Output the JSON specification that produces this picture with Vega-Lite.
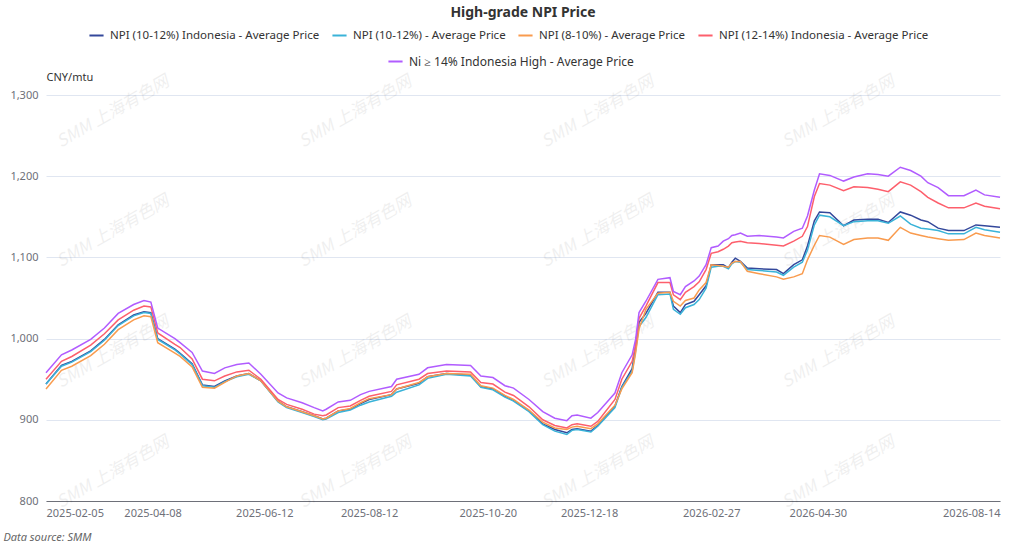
{
  "$schema": "https://vega.github.io/schema/vega-lite/v6.json",
  "description": "High-grade NPI Price",
  "autosize": {"type": "none"},
  "padding": {"left": 46, "top": 95, "right": 24, "bottom": 46},
  "width": 954,
  "height": 406,
  "background": "white",
  "title": {"text": "High-grade NPI Price", "fontSize": 14, "fontWeight": "bold", "color": "#333333", "anchor": "middle", "offset": 7},
  "config": {
    "font": "Noto Sans",
    "view": {"stroke": null},
    "legend": {
      "title": null,
      "orient": "none",
      "direction": "horizontal",
      "gridAlign": "none",
      "columnPadding": 8,
      "symbolType": "stroke",
      "symbolSize": 200,
      "symbolStrokeWidth": 2,
      "labelFontSize": 11.5,
      "labelColor": "#333333",
      "labelOffset": 5,
      "labelLimit": 0
    }
  },
  "datasets": {
    "watermark": [
      {"date": "2025-03-16", "price": 1279, "text": "SMM 上海有色网"}, {"date": "2025-08-04", "price": 1279, "text": "SMM 上海有色网"},
      {"date": "2025-12-23", "price": 1279, "text": "SMM 上海有色网"}, {"date": "2026-05-12", "price": 1279, "text": "SMM 上海有色网"},
      {"date": "2025-03-16", "price": 1132, "text": "SMM 上海有色网"}, {"date": "2025-08-04", "price": 1132, "text": "SMM 上海有色网"},
      {"date": "2025-12-23", "price": 1132, "text": "SMM 上海有色网"}, {"date": "2026-05-12", "price": 1132, "text": "SMM 上海有色网"},
      {"date": "2025-03-16", "price": 983, "text": "SMM 上海有色网"}, {"date": "2025-08-04", "price": 983, "text": "SMM 上海有色网"},
      {"date": "2025-12-23", "price": 983, "text": "SMM 上海有色网"}, {"date": "2026-05-12", "price": 983, "text": "SMM 上海有色网"},
      {"date": "2025-03-16", "price": 835, "text": "SMM 上海有色网"}, {"date": "2025-08-04", "price": 835, "text": "SMM 上海有色网"},
      {"date": "2025-12-23", "price": 835, "text": "SMM 上海有色网"}, {"date": "2026-05-12", "price": 835, "text": "SMM 上海有色网"}
    ],
    "npi1012id": [
      {"date":"2025-02-05","price":944},{"date":"2025-02-14","price":967},{"date":"2025-02-20","price":972},{"date":"2025-03-03","price":985},{"date":"2025-03-11","price":999},{"date":"2025-03-19","price":1017},{"date":"2025-03-28","price":1029},{"date":"2025-04-03","price":1033},{"date":"2025-04-07","price":1032},{"date":"2025-04-11","price":1000},
      {"date":"2025-04-21","price":987},{"date":"2025-04-24","price":982},{"date":"2025-05-01","price":969},{"date":"2025-05-07","price":943},{"date":"2025-05-14","price":941},{"date":"2025-05-20","price":948},{"date":"2025-05-27","price":954},{"date":"2025-06-03","price":957},{"date":"2025-06-10","price":948},{"date":"2025-06-20","price":923},
      {"date":"2025-06-25","price":916},{"date":"2025-07-04","price":910},{"date":"2025-07-11","price":905},{"date":"2025-07-16","price":901},{"date":"2025-07-18","price":902},{"date":"2025-07-25","price":911},{"date":"2025-08-01","price":913},{"date":"2025-08-07","price":920},{"date":"2025-08-12","price":925},{"date":"2025-08-25","price":931},
      {"date":"2025-08-28","price":938},{"date":"2025-09-10","price":945},{"date":"2025-09-15","price":953},{"date":"2025-09-26","price":957},{"date":"2025-10-10","price":955},{"date":"2025-10-16","price":941},{"date":"2025-10-23","price":938},{"date":"2025-10-30","price":929},{"date":"2025-11-04","price":924},{"date":"2025-11-13","price":911},
      {"date":"2025-11-21","price":895},{"date":"2025-11-28","price":888},{"date":"2025-12-05","price":884},{"date":"2025-12-08","price":888},{"date":"2025-12-11","price":889},{"date":"2025-12-19","price":886},{"date":"2025-12-23","price":893},{"date":"2026-01-02","price":917},{"date":"2026-01-06","price":941},{"date":"2026-01-12","price":963},
      {"date":"2026-01-14","price":990},{"date":"2026-01-16","price":1020},{"date":"2026-01-20","price":1031},{"date":"2026-01-27","price":1057},{"date":"2026-02-03","price":1057},{"date":"2026-02-05","price":1040},{"date":"2026-02-09","price":1032},{"date":"2026-02-12","price":1042},{"date":"2026-02-17","price":1046},{"date":"2026-02-20","price":1054},
      {"date":"2026-02-24","price":1065},{"date":"2026-02-27","price":1091},{"date":"2026-03-03","price":1091},{"date":"2026-03-06","price":1091},{"date":"2026-03-09","price":1087},{"date":"2026-03-11","price":1094},{"date":"2026-03-13","price":1099},{"date":"2026-03-16","price":1095},{"date":"2026-03-20","price":1087},{"date":"2026-03-27","price":1086},
      {"date":"2026-04-06","price":1085},{"date":"2026-04-10","price":1080},{"date":"2026-04-16","price":1091},{"date":"2026-04-21","price":1097},{"date":"2026-04-24","price":1114},{"date":"2026-04-28","price":1145},{"date":"2026-05-01","price":1156},{"date":"2026-05-07","price":1155},{"date":"2026-05-15","price":1139},{"date":"2026-05-21","price":1146},
      {"date":"2026-05-29","price":1147},{"date":"2026-06-04","price":1147},{"date":"2026-06-10","price":1143},{"date":"2026-06-17","price":1156},{"date":"2026-06-23","price":1152},{"date":"2026-06-29","price":1146},{"date":"2026-07-03","price":1144},{"date":"2026-07-09","price":1136},{"date":"2026-07-15","price":1133},{"date":"2026-07-24","price":1133},
      {"date":"2026-07-31","price":1140},{"date":"2026-08-05","price":1139},{"date":"2026-08-14","price":1137}
    ],
    "npi1012": [
      {"date":"2025-02-05","price":944},{"date":"2025-02-14","price":966},{"date":"2025-02-20","price":971},{"date":"2025-03-03","price":984},{"date":"2025-03-11","price":998},{"date":"2025-03-19","price":1016},{"date":"2025-03-28","price":1028},{"date":"2025-04-03","price":1032},{"date":"2025-04-07","price":1031},{"date":"2025-04-11","price":999},
      {"date":"2025-04-21","price":986},{"date":"2025-04-24","price":981},{"date":"2025-05-01","price":968},{"date":"2025-05-07","price":942},{"date":"2025-05-14","price":940},{"date":"2025-05-20","price":947},{"date":"2025-05-27","price":953},{"date":"2025-06-03","price":956},{"date":"2025-06-10","price":948},{"date":"2025-06-20","price":922},
      {"date":"2025-06-25","price":915},{"date":"2025-07-04","price":909},{"date":"2025-07-11","price":904},{"date":"2025-07-16","price":900},{"date":"2025-07-18","price":901},{"date":"2025-07-25","price":909},{"date":"2025-08-01","price":912},{"date":"2025-08-07","price":918},{"date":"2025-08-12","price":922},{"date":"2025-08-25","price":929},
      {"date":"2025-08-28","price":934},{"date":"2025-09-10","price":943},{"date":"2025-09-15","price":951},{"date":"2025-09-26","price":956},{"date":"2025-10-10","price":954},{"date":"2025-10-16","price":940},{"date":"2025-10-23","price":937},{"date":"2025-10-30","price":928},{"date":"2025-11-04","price":923},{"date":"2025-11-13","price":910},
      {"date":"2025-11-21","price":894},{"date":"2025-11-28","price":886},{"date":"2025-12-05","price":882},{"date":"2025-12-08","price":887},{"date":"2025-12-11","price":888},{"date":"2025-12-19","price":885},{"date":"2025-12-23","price":892},{"date":"2026-01-02","price":915},{"date":"2026-01-06","price":940},{"date":"2026-01-12","price":960},
      {"date":"2026-01-14","price":985},{"date":"2026-01-16","price":1015},{"date":"2026-01-20","price":1026},{"date":"2026-01-27","price":1054},{"date":"2026-02-03","price":1055},{"date":"2026-02-05","price":1036},{"date":"2026-02-09","price":1030},{"date":"2026-02-12","price":1038},{"date":"2026-02-17","price":1042},{"date":"2026-02-20","price":1048},
      {"date":"2026-02-24","price":1062},{"date":"2026-02-27","price":1088},{"date":"2026-03-03","price":1089},{"date":"2026-03-06","price":1089},{"date":"2026-03-09","price":1086},{"date":"2026-03-11","price":1092},{"date":"2026-03-13","price":1095},{"date":"2026-03-16","price":1094},{"date":"2026-03-20","price":1085},{"date":"2026-03-27","price":1084},
      {"date":"2026-04-06","price":1082},{"date":"2026-04-10","price":1078},{"date":"2026-04-16","price":1088},{"date":"2026-04-21","price":1094},{"date":"2026-04-24","price":1109},{"date":"2026-04-28","price":1140},{"date":"2026-05-01","price":1152},{"date":"2026-05-07","price":1150},{"date":"2026-05-15","price":1139},{"date":"2026-05-21","price":1144},
      {"date":"2026-05-29","price":1145},{"date":"2026-06-04","price":1145},{"date":"2026-06-10","price":1142},{"date":"2026-06-17","price":1151},{"date":"2026-06-23","price":1141},{"date":"2026-06-29","price":1136},{"date":"2026-07-03","price":1135},{"date":"2026-07-09","price":1133},{"date":"2026-07-15","price":1129},{"date":"2026-07-24","price":1129},
      {"date":"2026-07-31","price":1137},{"date":"2026-08-05","price":1134},{"date":"2026-08-14","price":1131}
    ],
    "npi810": [
      {"date":"2025-02-05","price":938},{"date":"2025-02-14","price":961},{"date":"2025-02-20","price":966},{"date":"2025-03-03","price":979},{"date":"2025-03-11","price":993},{"date":"2025-03-19","price":1011},{"date":"2025-03-28","price":1023},{"date":"2025-04-03","price":1028},{"date":"2025-04-07","price":1027},{"date":"2025-04-11","price":995},
      {"date":"2025-04-21","price":982},{"date":"2025-04-24","price":978},{"date":"2025-05-01","price":965},{"date":"2025-05-07","price":940},{"date":"2025-05-14","price":939},{"date":"2025-05-20","price":946},{"date":"2025-05-27","price":954},{"date":"2025-06-03","price":957},{"date":"2025-06-10","price":948},{"date":"2025-06-20","price":923},
      {"date":"2025-06-25","price":916},{"date":"2025-07-04","price":910},{"date":"2025-07-11","price":905},{"date":"2025-07-16","price":901},{"date":"2025-07-18","price":902},{"date":"2025-07-25","price":911},{"date":"2025-08-01","price":914},{"date":"2025-08-07","price":921},{"date":"2025-08-12","price":926},{"date":"2025-08-25","price":931},
      {"date":"2025-08-28","price":938},{"date":"2025-09-10","price":946},{"date":"2025-09-15","price":953},{"date":"2025-09-26","price":957},{"date":"2025-10-10","price":956},{"date":"2025-10-16","price":942},{"date":"2025-10-23","price":939},{"date":"2025-10-30","price":930},{"date":"2025-11-04","price":925},{"date":"2025-11-13","price":912},
      {"date":"2025-11-21","price":897},{"date":"2025-11-28","price":890},{"date":"2025-12-05","price":888},{"date":"2025-12-08","price":891},{"date":"2025-12-11","price":892},{"date":"2025-12-19","price":889},{"date":"2025-12-23","price":895},{"date":"2026-01-02","price":918},{"date":"2026-01-06","price":938},{"date":"2026-01-12","price":958},
      {"date":"2026-01-14","price":982},{"date":"2026-01-16","price":1012},{"date":"2026-01-20","price":1036},{"date":"2026-01-27","price":1056},{"date":"2026-02-03","price":1057},{"date":"2026-02-05","price":1046},{"date":"2026-02-09","price":1040},{"date":"2026-02-12","price":1047},{"date":"2026-02-17","price":1050},{"date":"2026-02-20","price":1060},
      {"date":"2026-02-24","price":1069},{"date":"2026-02-27","price":1091},{"date":"2026-03-03","price":1090},{"date":"2026-03-06","price":1089},{"date":"2026-03-09","price":1088},{"date":"2026-03-11","price":1093},{"date":"2026-03-13","price":1095},{"date":"2026-03-16","price":1095},{"date":"2026-03-20","price":1083},{"date":"2026-03-27","price":1080},
      {"date":"2026-04-06","price":1076},{"date":"2026-04-10","price":1073},{"date":"2026-04-16","price":1076},{"date":"2026-04-21","price":1080},{"date":"2026-04-24","price":1097},{"date":"2026-04-28","price":1115},{"date":"2026-05-01","price":1127},{"date":"2026-05-07","price":1125},{"date":"2026-05-15","price":1116},{"date":"2026-05-21","price":1122},
      {"date":"2026-05-29","price":1124},{"date":"2026-06-04","price":1124},{"date":"2026-06-10","price":1121},{"date":"2026-06-17","price":1137},{"date":"2026-06-23","price":1130},{"date":"2026-06-29","price":1127},{"date":"2026-07-03","price":1125},{"date":"2026-07-09","price":1123},{"date":"2026-07-15","price":1121},{"date":"2026-07-24","price":1122},
      {"date":"2026-07-31","price":1130},{"date":"2026-08-05","price":1127},{"date":"2026-08-14","price":1124}
    ],
    "npi1214id": [
      {"date":"2025-02-05","price":950},{"date":"2025-02-14","price":972},{"date":"2025-02-20","price":978},{"date":"2025-03-03","price":992},{"date":"2025-03-11","price":1006},{"date":"2025-03-19","price":1023},{"date":"2025-03-28","price":1035},{"date":"2025-04-03","price":1040},{"date":"2025-04-07","price":1039},{"date":"2025-04-11","price":1007},
      {"date":"2025-04-21","price":993},{"date":"2025-04-24","price":989},{"date":"2025-05-01","price":975},{"date":"2025-05-07","price":950},{"date":"2025-05-14","price":948},{"date":"2025-05-20","price":954},{"date":"2025-05-27","price":959},{"date":"2025-06-03","price":961},{"date":"2025-06-10","price":950},{"date":"2025-06-20","price":925},
      {"date":"2025-06-25","price":919},{"date":"2025-07-04","price":913},{"date":"2025-07-11","price":907},{"date":"2025-07-16","price":905},{"date":"2025-07-18","price":906},{"date":"2025-07-25","price":915},{"date":"2025-08-01","price":917},{"date":"2025-08-07","price":924},{"date":"2025-08-12","price":929},{"date":"2025-08-25","price":935},
      {"date":"2025-08-28","price":943},{"date":"2025-09-10","price":950},{"date":"2025-09-15","price":957},{"date":"2025-09-26","price":960},{"date":"2025-10-10","price":959},{"date":"2025-10-16","price":946},{"date":"2025-10-23","price":944},{"date":"2025-10-30","price":934},{"date":"2025-11-04","price":930},{"date":"2025-11-13","price":916},
      {"date":"2025-11-21","price":900},{"date":"2025-11-28","price":893},{"date":"2025-12-05","price":890},{"date":"2025-12-08","price":894},{"date":"2025-12-11","price":895},{"date":"2025-12-19","price":892},{"date":"2025-12-23","price":898},{"date":"2026-01-02","price":925},{"date":"2026-01-06","price":950},{"date":"2026-01-12","price":972},
      {"date":"2026-01-14","price":992},{"date":"2026-01-16","price":1025},{"date":"2026-01-20","price":1040},{"date":"2026-01-27","price":1069},{"date":"2026-02-03","price":1069},{"date":"2026-02-05","price":1054},{"date":"2026-02-09","price":1048},{"date":"2026-02-12","price":1057},{"date":"2026-02-17","price":1064},{"date":"2026-02-20","price":1070},
      {"date":"2026-02-24","price":1085},{"date":"2026-02-27","price":1105},{"date":"2026-03-03","price":1107},{"date":"2026-03-06","price":1110},{"date":"2026-03-09","price":1114},{"date":"2026-03-11","price":1118},{"date":"2026-03-13","price":1119},{"date":"2026-03-16","price":1120},{"date":"2026-03-20","price":1118},{"date":"2026-03-27","price":1117},
      {"date":"2026-04-06","price":1115},{"date":"2026-04-10","price":1114},{"date":"2026-04-16","price":1120},{"date":"2026-04-21","price":1126},{"date":"2026-04-24","price":1138},{"date":"2026-04-28","price":1175},{"date":"2026-05-01","price":1191},{"date":"2026-05-07","price":1189},{"date":"2026-05-15","price":1182},{"date":"2026-05-21","price":1187},
      {"date":"2026-05-29","price":1186},{"date":"2026-06-04","price":1184},{"date":"2026-06-10","price":1181},{"date":"2026-06-17","price":1193},{"date":"2026-06-23","price":1189},{"date":"2026-06-29","price":1181},{"date":"2026-07-03","price":1174},{"date":"2026-07-09","price":1167},{"date":"2026-07-15","price":1161},{"date":"2026-07-24","price":1161},
      {"date":"2026-07-31","price":1167},{"date":"2026-08-05","price":1163},{"date":"2026-08-14","price":1160}
    ],
    "ni14id": [
      {"date":"2025-02-05","price":958},{"date":"2025-02-14","price":980},{"date":"2025-02-20","price":986},{"date":"2025-03-03","price":999},{"date":"2025-03-11","price":1013},{"date":"2025-03-19","price":1031},{"date":"2025-03-28","price":1042},{"date":"2025-04-03","price":1047},{"date":"2025-04-07","price":1045},{"date":"2025-04-11","price":1013},
      {"date":"2025-04-21","price":1000},{"date":"2025-04-24","price":995},{"date":"2025-05-01","price":983},{"date":"2025-05-07","price":960},{"date":"2025-05-14","price":957},{"date":"2025-05-20","price":964},{"date":"2025-05-27","price":968},{"date":"2025-06-03","price":970},{"date":"2025-06-10","price":956},{"date":"2025-06-20","price":933},
      {"date":"2025-06-25","price":927},{"date":"2025-07-04","price":921},{"date":"2025-07-11","price":915},{"date":"2025-07-16","price":911},{"date":"2025-07-18","price":913},{"date":"2025-07-25","price":922},{"date":"2025-08-01","price":924},{"date":"2025-08-07","price":931},{"date":"2025-08-12","price":935},{"date":"2025-08-25","price":941},
      {"date":"2025-08-28","price":950},{"date":"2025-09-10","price":956},{"date":"2025-09-15","price":964},{"date":"2025-09-26","price":968},{"date":"2025-10-10","price":967},{"date":"2025-10-16","price":954},{"date":"2025-10-23","price":952},{"date":"2025-10-30","price":942},{"date":"2025-11-04","price":939},{"date":"2025-11-13","price":925},
      {"date":"2025-11-21","price":910},{"date":"2025-11-28","price":902},{"date":"2025-12-05","price":899},{"date":"2025-12-08","price":905},{"date":"2025-12-11","price":906},{"date":"2025-12-19","price":902},{"date":"2025-12-23","price":909},{"date":"2026-01-02","price":933},{"date":"2026-01-06","price":958},{"date":"2026-01-12","price":980},
      {"date":"2026-01-14","price":999},{"date":"2026-01-16","price":1032},{"date":"2026-01-20","price":1046},{"date":"2026-01-27","price":1073},{"date":"2026-02-03","price":1075},{"date":"2026-02-05","price":1058},{"date":"2026-02-09","price":1054},{"date":"2026-02-12","price":1064},{"date":"2026-02-17","price":1071},{"date":"2026-02-20","price":1077},
      {"date":"2026-02-24","price":1091},{"date":"2026-02-27","price":1112},{"date":"2026-03-03","price":1114},{"date":"2026-03-06","price":1120},{"date":"2026-03-09","price":1123},{"date":"2026-03-11","price":1127},{"date":"2026-03-13","price":1128},{"date":"2026-03-16","price":1130},{"date":"2026-03-20","price":1126},{"date":"2026-03-27","price":1127},
      {"date":"2026-04-06","price":1125},{"date":"2026-04-10","price":1124},{"date":"2026-04-16","price":1132},{"date":"2026-04-21","price":1136},{"date":"2026-04-24","price":1151},{"date":"2026-04-28","price":1183},{"date":"2026-05-01","price":1203},{"date":"2026-05-07","price":1201},{"date":"2026-05-15","price":1194},{"date":"2026-05-21","price":1199},
      {"date":"2026-05-29","price":1203},{"date":"2026-06-04","price":1202},{"date":"2026-06-10","price":1200},{"date":"2026-06-17","price":1211},{"date":"2026-06-23","price":1207},{"date":"2026-06-29","price":1200},{"date":"2026-07-03","price":1192},{"date":"2026-07-09","price":1186},{"date":"2026-07-15","price":1176},{"date":"2026-07-24","price":1176},
      {"date":"2026-07-31","price":1183},{"date":"2026-08-05","price":1177},{"date":"2026-08-14","price":1174}
    ]
  },
  "encoding": {
    "x": {
      "field": "date",
      "type": "temporal",
      "scale": {"domain": [{"year": 2025, "month": 2, "date": 5}, {"year": 2026, "month": 8, "date": 14}], "nice": false},
      "axis": {
        "values": [
          {"year": 2025, "month": 2, "date": 5}, {"year": 2025, "month": 4, "date": 8}, {"year": 2025, "month": 6, "date": 12},
          {"year": 2025, "month": 8, "date": 12}, {"year": 2025, "month": 10, "date": 20}, {"year": 2025, "month": 12, "date": 18},
          {"year": 2026, "month": 2, "date": 27}, {"year": 2026, "month": 4, "date": 30}, {"year": 2026, "month": 8, "date": 14}
        ],
        "format": "%Y-%m-%d",
        "labelFlush": true,
        "labelOverlap": false,
        "labelFontSize": 11,
        "labelColor": "#6e7079",
        "labelPadding": 6,
        "ticks": false,
        "grid": false,
        "domainColor": "#6e7079",
        "title": "Data source:  SMM",
        "titleAnchor": "start",
        "titleAlign": "left",
        "titleX": -43,
        "titleY": 36,
        "titleBaseline": "middle",
        "titleFontSize": 11,
        "titleFontStyle": "italic",
        "titleFontWeight": "normal",
        "titleColor": "#666666"
      }
    },
    "y": {
      "field": "price",
      "type": "quantitative",
      "scale": {"domain": [800, 1300], "nice": false, "zero": false},
      "axis": {
        "values": [800, 900, 1000, 1100, 1200, 1300],
        "format": ",d",
        "labelFontSize": 11,
        "labelColor": "#6e7079",
        "labelPadding": 8,
        "ticks": false,
        "domain": false,
        "gridColor": "#e0e6f1",
        "title": "CNY/mtu",
        "titleAngle": 0,
        "titleAlign": "left",
        "titleBaseline": "middle",
        "titleX": 0,
        "titleY": -18,
        "titleFontSize": 11,
        "titleFontWeight": "normal",
        "titleColor": "#333333"
      }
    }
  },
  "layer": [
    {
      "data": {"name": "watermark", "format": {"parse": {"date": "date:'%Y-%m-%d'"}}},
      "mark": {"type": "text", "angle": 330, "font": "Noto Sans CJK SC", "fontSize": 17, "fontStyle": "italic", "color": "#000000", "opacity": 0.06},
      "encoding": {"text": {"field": "text"}}
    },
    {
      "data": {"name": "npi1012id", "format": {"parse": {"date": "date:'%Y-%m-%d'"}}},
      "mark": {"type": "line", "strokeWidth": 1.5},
      "encoding": {
        "color": {
          "datum": "NPI (10-12%) Indonesia - Average Price",
          "scale": {
            "domain": ["NPI (10-12%) Indonesia - Average Price", "NPI (10-12%) - Average Price", "NPI (8-10%) - Average Price", "NPI (12-14%) Indonesia - Average Price"],
            "range": ["#34489b", "#3ab3d8", "#f99b4e", "#fd5f6c"]
          },
          "legend": {"legendX": 42, "legendY": -68, "columns": 4}
        }
      }
    },
    {
      "data": {"name": "npi1012", "format": {"parse": {"date": "date:'%Y-%m-%d'"}}},
      "mark": {"type": "line", "strokeWidth": 1.5},
      "encoding": {"color": {"datum": "NPI (10-12%) - Average Price"}}
    },
    {
      "data": {"name": "npi810", "format": {"parse": {"date": "date:'%Y-%m-%d'"}}},
      "mark": {"type": "line", "strokeWidth": 1.5},
      "encoding": {"color": {"datum": "NPI (8-10%) - Average Price"}}
    },
    {
      "data": {"name": "npi1214id", "format": {"parse": {"date": "date:'%Y-%m-%d'"}}},
      "mark": {"type": "line", "strokeWidth": 1.5},
      "encoding": {"color": {"datum": "NPI (12-14%) Indonesia - Average Price"}}
    },
    {
      "data": {"name": "ni14id", "format": {"parse": {"date": "date:'%Y-%m-%d'"}}},
      "mark": {"type": "line", "strokeWidth": 1.5},
      "encoding": {
        "stroke": {
          "datum": "Ni ≥ 14% Indonesia High - Average Price",
          "scale": {"domain": ["Ni ≥ 14% Indonesia High - Average Price"], "range": ["#b15cff"]},
          "legend": {"legendX": 341, "legendY": -42, "labelFontSize": 12}
        }
      }
    }
  ]
}
